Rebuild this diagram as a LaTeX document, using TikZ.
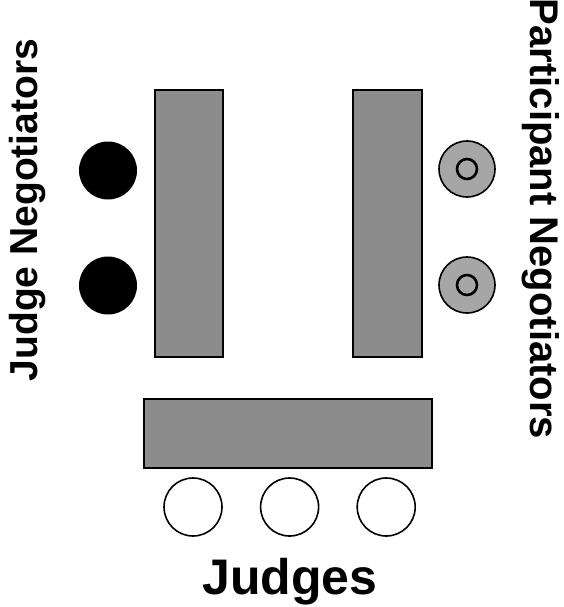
\documentclass[tikz,border=0pt]{standalone}
\usepackage{fontspec}
\setmainfont{Liberation Sans}
\usetikzlibrary{positioning}
\begin{document}
\begin{tikzpicture}[
x=1pt, y=-1pt,
every node/.style={font=\bfseries, inner sep=0pt},
tablebox/.style={draw=black, line width=2.2pt, fill=black!45},
judgeneg/.style={circle, fill=black, minimum size=58pt},
partneg/.style={circle, draw=black, line width=1.6pt, fill=black!35, minimum size=56pt},
partcore/.style={circle, draw=black, line width=2.6pt, fill=black!35, minimum size=20pt},
judge/.style={circle, draw=black, line width=1.6pt, fill=white, minimum size=58pt}
]
\useasboundingbox (0,0) rectangle (564,607);
% tables
\node[tablebox, minimum width=68pt, minimum height=267pt] (tleft) at (189,223.5) {};
\node[tablebox, minimum width=69pt, minimum height=267pt] (tright) at (387.5,223.5) {};
\node[tablebox, minimum width=288pt, minimum height=69pt] (tbottom) at (288,433.5) {};
% judge negotiators
\node[judgeneg] (jn1) at (108,170.5) {};
\node[judgeneg] (jn2) at (108,285.5) {};
% participant negotiators
\node[partneg] (pn1) at (467,169) {};
\node[partcore] at (pn1.center) (pc1) {};
\node[partneg] (pn2) at (467,285) {};
\node[partcore] at (pn2.center) (pc2) {};
% judges
\node[judge] (j1) at (193,507) {};
\node[judge, right=37pt of j1] (j2) {};
\node[judge, right=37pt of j2] (j3) {};
% labels
\node[rotate=90, font=\bfseries\fontsize{39}{44}\selectfont] (ljn) at (28,210) {Judge Negotiators};
\node[rotate=-90, font=\bfseries\fontsize{40}{45}\selectfont] (lpn) at (541,219) {Participant Negotiators};
\node[font=\bfseries\fontsize{50}{56}\selectfont] (lj) at (290,582) {Judges};
\end{tikzpicture}
\end{document}
